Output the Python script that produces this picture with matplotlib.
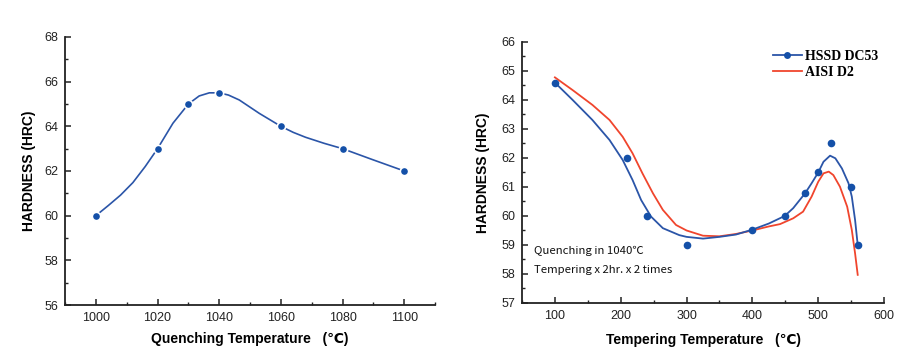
import matplotlib
matplotlib.use("Agg")
import matplotlib.pyplot as plt
from matplotlib.lines import Line2D
from matplotlib.ticker import MultipleLocator

# left panel: quenching
q_temp = [1000, 1020, 1030, 1040, 1060, 1080, 1100]
q_hard = [60, 63, 65, 65.5, 64, 63, 62]
# smooth curve
q_curve_x = [1000, 1004, 1008, 1012, 1016, 1020, 1025, 1030, 1033.5, 1036.8, 1040,
             1043, 1046.5, 1053, 1060, 1064, 1068, 1074, 1080, 1089.5, 1100]
q_curve_y = [60.0, 60.45, 60.92, 61.48, 62.2, 63.0, 64.14, 65.0, 65.36, 65.5, 65.5,
             65.4, 65.18, 64.58, 64.0, 63.73, 63.51, 63.24, 63.0, 62.52, 62.0]

# right panel: tempering
t_temp = [100, 210, 240, 300, 400, 450, 480, 500, 520, 550, 560]
t_dc53 = [64.6, 62.0, 60.0, 59.0, 59.5, 60.0, 60.8, 61.5, 62.5, 61.0, 59.0]
dc53_x = [100, 127, 157, 183, 203, 218, 231, 246, 264, 289, 300, 325, 350, 375,
          400, 425, 449, 462, 480, 490, 500, 508, 518, 526, 536, 546, 551, 556, 560]
dc53_y = [64.6, 64.0, 63.31, 62.62, 61.93, 61.24, 60.55, 59.98, 59.58, 59.34, 59.28,
          59.22, 59.28, 59.36, 59.53, 59.74, 60.0, 60.27, 60.78, 61.13, 61.5, 61.87,
          62.08, 61.99, 61.64, 61.13, 60.67, 59.86, 59.0]
d2_x = [100, 127, 157, 183, 203, 218, 233, 249, 264, 284, 300, 325, 350, 375, 400,
        425, 442, 462, 477, 490, 500, 508, 516, 523, 533, 544, 551, 556, 560]
d2_y = [64.78, 64.34, 63.83, 63.31, 62.73, 62.16, 61.47, 60.78, 60.21, 59.69, 59.5,
        59.32, 59.3, 59.38, 59.5, 59.64, 59.72, 59.92, 60.15, 60.67, 61.18, 61.47,
        61.53, 61.41, 61.01, 60.32, 59.52, 58.71, 57.97]

blue = '#2b55a8'
dot = '#1450a8'
red = '#f0452d'
sans = ['Liberation Sans', 'DejaVu Sans']

fig = plt.figure(figsize=(9.07, 3.54), dpi=100)
ax1 = fig.add_axes([0.0717, 0.1384, 0.408, 0.7571])
ax2 = fig.add_axes([0.5755, 0.1441, 0.3992, 0.7373])

for ax in (ax1, ax2):
    ax.spines['top'].set_visible(False)
    ax.spines['right'].set_visible(False)
    for s in ('left', 'bottom'):
        ax.spines[s].set_linewidth(1.3)
        ax.spines[s].set_color('#222222')
    ax.tick_params(which='major', direction='in', length=4, width=1.1, labelsize=9,
                   colors='#222222', pad=5)
    ax.tick_params(which='minor', direction='in', length=2.5, width=1.0, colors='#222222')

ax1.plot(q_curve_x, q_curve_y, color=blue, lw=1.2, zorder=2, solid_joinstyle='round')
ax1.plot(q_temp, q_hard, 'o', color=dot, ms=6, mec='white', mew=1.2, zorder=3)
ax1.set_xlim(990, 1110)
ax1.set_ylim(56, 68)
ax1.xaxis.set_minor_locator(MultipleLocator(10))
ax1.yaxis.set_major_locator(MultipleLocator(2))
ax1.yaxis.set_minor_locator(MultipleLocator(1))
ax1.set_xticks([1000, 1020, 1040, 1060, 1080, 1100])
ax1.set_xlabel('Quenching Temperature   (℃)', fontsize=10, fontweight='bold',
               family=sans, labelpad=6)
ax1.set_ylabel('HARDNESS (HRC)', fontsize=10, fontweight='bold', family=sans, labelpad=6)

ax2.plot(dc53_x, dc53_y, color=blue, lw=1.3, zorder=3, solid_joinstyle='round')
ax2.plot(d2_x, d2_y, color=red, lw=1.3, zorder=2, solid_joinstyle='round')
ax2.plot(t_temp, t_dc53, 'o', color=dot, ms=5.5, mew=0, zorder=4)
ax2.set_xlim(50, 600)
ax2.set_ylim(57, 66)
ax2.xaxis.set_minor_locator(MultipleLocator(50))
ax2.yaxis.set_major_locator(MultipleLocator(1))
ax2.yaxis.set_minor_locator(MultipleLocator(0.5))
ax2.set_xticks([100, 200, 300, 400, 500, 600])
ax2.set_xlabel('Tempering Temperature   (℃)', fontsize=10, fontweight='bold',
               family=sans, labelpad=8)
ax2.set_ylabel('HARDNESS (HRC)', fontsize=10, fontweight='bold', family=sans, labelpad=8)

for lab in ax1.get_xticklabels() + ax1.get_yticklabels() + ax2.get_xticklabels() + ax2.get_yticklabels():
    lab.set_family(sans)

note = ['Noto Sans CJK SC', 'DejaVu Sans']
ax2.text(0.033, 0.199, 'Quenching in 1040℃', transform=ax2.transAxes, fontsize=8.2,
         family=note, va='center', color='#111111')
ax2.text(0.033, 0.126, 'Tempering x 2hr. x 2 times', transform=ax2.transAxes, fontsize=8.2,
         family=note, va='center', color='#111111')

handles = [Line2D([], [], color=blue, lw=1.3, marker='o', ms=5, mew=0, mfc=dot),
           Line2D([], [], color=red, lw=1.3)]
ax2.legend(handles, ['HSSD DC53', 'AISI D2'], loc='upper left', bbox_to_anchor=(0.693, 0.97),
           frameon=False, handlelength=2.1, handletextpad=0.2, labelspacing=0.2,
           borderpad=0, borderaxespad=0,
           prop={'family': 'Liberation Serif', 'weight': 'bold', 'size': 10})

fig.savefig('out.png', dpi=100)
